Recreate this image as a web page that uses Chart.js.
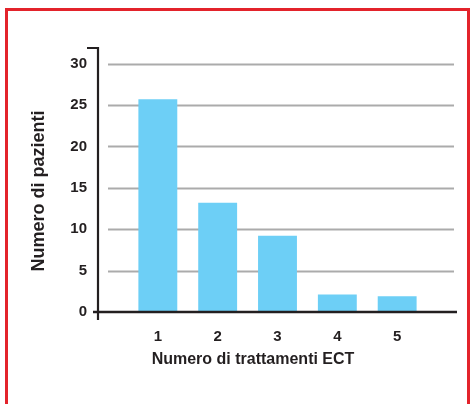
<!DOCTYPE html>
<html>
<head>
<meta charset="utf-8">
<script src="https://cdn.jsdelivr.net/npm/chart.js@4/dist/chart.umd.min.js"></script>
<style>
  body { margin: 0; background: #fff; }
  .wrap { position: relative; width: 474px; height: 404px; overflow: hidden; }
  .frame {
    position: absolute; left: 5px; top: 8px; width: 459px; height: 430px;
    border: 3px solid #e3232b; border-bottom: none;
  }
  canvas { position: absolute; left: 0; top: 0; }
</style>
</head>
<body>
<div class="wrap">
  <div class="frame"></div>
  <canvas id="chart" width="474" height="404"></canvas>
</div>
<script>
// data
const treatments = [1, 2, 3, 4, 5];
const patients = [25.7, 13.2, 9.2, 2.1, 1.9];
const yTicks = [0, 5, 10, 15, 20, 25, 30];

const ink = '#231f20';
const barColor = '#6dcff6';
const gridColor = '#ababab';

// gridlines, axis lines and titles drawn by hand to match the print style
const axisPlugin = {
  id: 'printAxes',
  beforeDatasetsDraw(chart) {
    const { ctx, chartArea, scales: { y } } = chart;
    ctx.save();
    ctx.strokeStyle = gridColor;
    ctx.lineWidth = 1.8;
    yTicks.forEach((v) => {
      if (v === 0) return;
      const py = Math.round(y.getPixelForValue(v)) + 0.5;
      ctx.beginPath();
      ctx.moveTo(chartArea.left + 10, py);
      ctx.lineTo(chartArea.right - 3, py);
      ctx.stroke();
    });
    ctx.restore();
  },
  afterDatasetsDraw(chart) {
    const { ctx, chartArea, scales: { y } } = chart;
    const left = chartArea.left;
    const zero = y.getPixelForValue(0);
    ctx.save();
    ctx.strokeStyle = ink;
    ctx.lineWidth = 2.5;
    // x axis
    ctx.beginPath();
    ctx.moveTo(left - 5, zero);
    ctx.lineTo(chartArea.right, zero);
    ctx.stroke();
    // y axis with cap at the top
    ctx.lineWidth = 2.2;
    ctx.beginPath();
    ctx.moveTo(left - 11, chartArea.top + 1);
    ctx.lineTo(left, chartArea.top + 1);
    ctx.lineTo(left, zero + 8);
    ctx.stroke();

    // titles
    ctx.fillStyle = ink;
    ctx.textAlign = 'center';
    ctx.textBaseline = 'middle';
    ctx.font = 'bold 16px "Liberation Sans", Arial, sans-serif';
    ctx.fillText('Numero di trattamenti ECT', 253, 360);
    ctx.translate(39, 191);
    ctx.rotate(-Math.PI / 2);
    ctx.font = 'bold 18px "Liberation Sans", Arial, sans-serif';
    ctx.fillText('Numero di pazienti', 0, 0);
    ctx.restore();
  },
};

const ctx = document.getElementById('chart').getContext('2d');
new Chart(ctx, {
  type: 'bar',
  data: {
    datasets: [{
      data: treatments.map((t, i) => ({ x: t, y: patients[i] })),
      backgroundColor: barColor,
      borderWidth: 0,
      barPercentage: 0.65,
      categoryPercentage: 1,
    }],
  },
  options: {
    responsive: false,
    animation: false,
    layout: { padding: { top: 47, right: 17, left: 0, bottom: 0 } },
    plugins: {
      legend: { display: false },
      tooltip: { enabled: false },
    },
    scales: {
      x: {
        type: 'linear',
        min: 0,
        max: 6,
        offset: false,
        afterBuildTicks(scale) {
          scale.ticks = treatments.map((v) => ({ value: v }));
        },
        afterFit(scale) { scale.height = 92; },
        grid: { display: false, drawTicks: false, offset: false },
        border: { display: false },
        ticks: {
          padding: 16,
          color: ink,
          font: { family: '"Liberation Sans", Arial, sans-serif', size: 15, weight: 'bold' },
        },
      },
      y: {
        min: 0,
        max: 32,
        afterBuildTicks(scale) {
          scale.ticks = yTicks.map((v) => ({ value: v }));
        },
        afterFit(scale) { scale.width = 98; },
        grid: { display: false, drawTicks: false },
        border: { display: false },
        ticks: {
          padding: 11,
          color: ink,
          font: { family: '"Liberation Sans", Arial, sans-serif', size: 15, weight: 'bold' },
        },
      },
    },
  },
  plugins: [axisPlugin],
});
</script>
</body>
</html>
